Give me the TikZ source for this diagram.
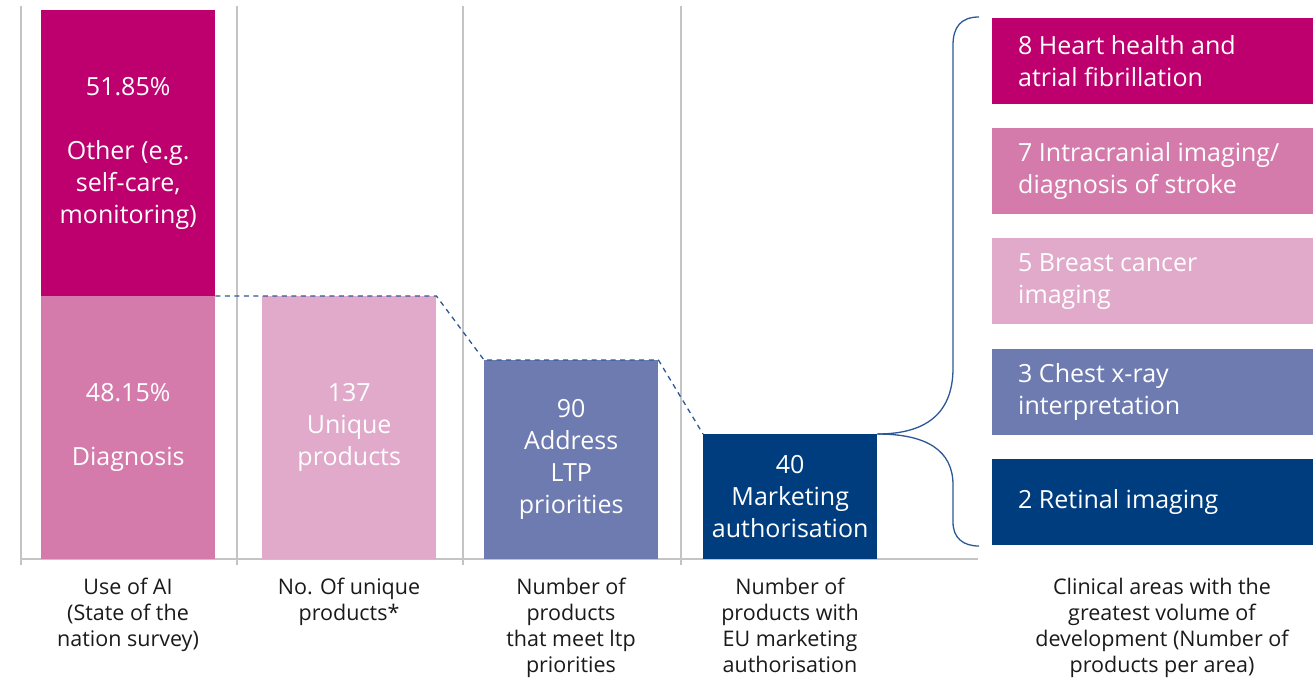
\documentclass[tikz,border=0pt]{standalone}
\usepackage{fontspec}
\setmainfont{Open Sans}
\definecolor{cMag}{HTML}{BE006F}
\definecolor{cPink}{HTML}{D57BAC}
\definecolor{cLight}{HTML}{E1A9CA}
\definecolor{cLav}{HTML}{6D7BB0}
\definecolor{cNavy}{HTML}{003D7F}
\definecolor{cGrid}{HTML}{C4C4C4}
\definecolor{cLine}{HTML}{2B5896}
\definecolor{cText}{HTML}{1A1A1A}
\tikzset{
  barbox/.style={anchor=north west, inner sep=0pt, minimum width=174pt, text=white, align=center, font=\fontsize{25}{32}\selectfont},
  areabox/.style={anchor=north west, inner sep=0pt, minimum width=321pt, minimum height=86pt},
  areatext/.style={anchor=west, inner sep=0pt, text=white, align=left, font=\fontsize{25}{32}\selectfont},
  axlabel/.style={anchor=north, inner sep=0pt, text=cText, align=center, font=\fontsize{21.5}{26}\selectfont},
  gridln/.style={draw=cGrid, line width=1.2pt},
  flowln/.style={draw=cLine, line width=1.3pt, dash pattern=on 5pt off 4.5pt},
  braceln/.style={draw=cLine, line width=1.3pt}
}
\begin{document}
\begin{tikzpicture}[x=1pt,y=-1pt]
\useasboundingbox (0,0) rectangle (1313,679);
% grid
\foreach \gx in {21,237,463,681} { \draw[gridln] (\gx,6) -- (\gx,565); }
\coordinate (axL) at (21,559);
\coordinate (axR) at (978,559);
\draw[gridln] (axL) -- (axR);
% bars
\node[barbox, fill=cMag, minimum height=286pt] (b1top) at (41,10) {51.85\%\\[32pt]Other (e.g.\\self-care,\\monitoring)};
\node[barbox, fill=cPink, minimum height=263pt] (b1bot) at (41,296) {48.15\%\\[32pt]Diagnosis};
\node[barbox, fill=cLight, minimum height=263pt] (b2) at (262,296) {137\\Unique\\products};
\node[barbox, fill=cLav, minimum height=199pt] (b3) at (484,360) {90\\Address\\LTP\\priorities};
\node[barbox, fill=cNavy, minimum height=125pt] (b4) at (703,434) {40\\Marketing\\authorisation};
% dashed flow
\draw[flowln] (b1bot.north east) -- (b2.north west) -- (b2.north east) -- (b3.north west) -- (b3.north east) -- (b4.north west);
% area boxes
\node[areabox, fill=cMag] (a1) at (992,18) {};
\node[areabox, fill=cPink] (a2) at (992,128) {};
\node[areabox, fill=cLight] (a3) at (992,238) {};
\node[areabox, fill=cLav] (a4) at (992,349) {};
\node[areabox, fill=cNavy] (a5) at (992,459) {};
\node[areatext] (t1) at ([xshift=26pt]a1.west) {8 Heart health and\\atrial fibrillation};
\node[areatext] (t2) at ([xshift=26pt]a2.west) {7 Intracranial imaging/\\diagnosis of stroke};
\node[areatext] (t3) at ([xshift=26pt]a3.west) {5 Breast cancer\\imaging};
\node[areatext] (t4) at ([xshift=26pt]a4.west) {3 Chest x-ray\\interpretation};
\node[areatext] (t5) at ([xshift=26pt]a5.west) {2 Retinal imaging};
% brace
\coordinate (brTop) at (979,17);
\coordinate (brBot) at (979,546);
\draw[braceln] (brTop) .. controls (961,17) and (953,27) .. (953,45) -- (953,368) .. controls (953,410) and (930,434) .. (b4.north east);
\draw[braceln] (b4.north east) .. controls (926,434) and (953,450) .. (953,485) -- (953,522) .. controls (953,538) and (963,546) .. (brBot);
% axis labels
\node[axlabel] (l1) at (128,578) {Use of AI\\(State of the\\nation survey)};
\node[axlabel] (l2) at (349,578) {No. Of unique\\products*};
\node[axlabel] (l3) at (571,578) {Number of\\products\\that meet ltp\\priorities};
\node[axlabel] (l4) at (790,578) {Number of\\products with\\EU marketing\\authorisation};
\node[axlabel] (l5) at (1162,578) {Clinical areas with the\\greatest volume of\\development (Number of\\products per area)};
\end{tikzpicture}
\end{document}
